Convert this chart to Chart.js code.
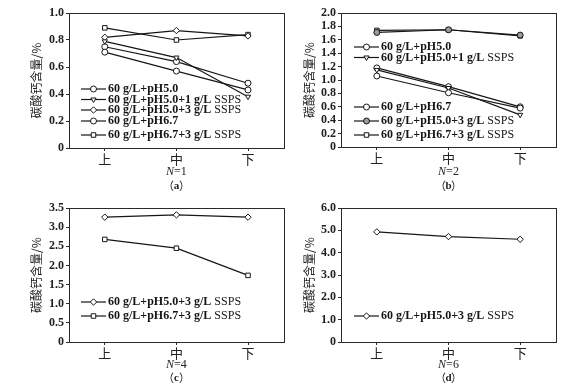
<!DOCTYPE html>
<html>
<head>
<meta charset="utf-8">
<script src="https://cdn.jsdelivr.net/npm/chart.js@4.4.1/dist/chart.umd.min.js"></script>
<style>
html,body{margin:0;padding:0;background:#fff;}
#wrap{position:relative;width:577px;height:391px;background:#fff;overflow:hidden;}
canvas{position:absolute;}
</style>
</head>
<body>
<div id="wrap">
<canvas id="ca" style="left:0;top:0;width:288px;height:195px"></canvas>
<canvas id="cb" style="left:288px;top:0;width:289px;height:195px"></canvas>
<canvas id="cc" style="left:0;top:195px;width:288px;height:196px"></canvas>
<canvas id="cd" style="left:288px;top:195px;width:289px;height:196px"></canvas>
</div>
<script>
// ---- data ----
const categories = ['上', '中', '下'];
// panel (a) N=1
const a_pH50 = [0.71, 0.57, 0.43];
const a_pH50_1SSPS = [0.79, 0.67, 0.38];
const a_pH50_3SSPS = [0.82, 0.87, 0.83];
const a_pH67 = [0.75, 0.64, 0.48];
const a_pH67_3SSPS = [0.89, 0.80, 0.84];
// panel (b) N=2
const b_pH50 = [1.06, 0.81, 0.58];
const b_pH50_1SSPS = [1.15, 0.88, 0.48];
const b_pH67 = [1.18, 0.90, 0.60];
const b_pH50_3SSPS = [1.71, 1.75, 1.67];
const b_pH67_3SSPS = [1.74, 1.75, 1.66];
// panel (c) N=4
const c_pH50_3SSPS = [3.26, 3.32, 3.26];
const c_pH67_3SSPS = [2.68, 2.45, 1.74];
// panel (d) N=6
const d_pH50_3SSPS = [4.93, 4.72, 4.60];

// labels
const L_pH50 = '60 g/L+pH5.0';
const L_pH50_1 = '60 g/L+pH5.0+1 g/L SSPS';
const L_pH50_3 = '60 g/L+pH5.0+3 g/L SSPS';
const L_pH67 = '60 g/L+pH6.7';
const L_pH67_3 = '60 g/L+pH6.7+3 g/L SSPS';
const yTitle = '碳酸钙含量/%';

// ---- helpers ----
const SERIF = '"Liberation Serif","DejaVu Serif",serif';
const CJK = '"Noto Sans CJK SC","Noto Sans CJK JP",sans-serif';
const INK = '#161616';

function ds(label, data, style, extra) {
  return Object.assign({
    label: label, data: data,
    borderColor: INK, borderWidth: 1.2,
    pointStyle: style, pointRadius: 3, pointHoverRadius: 3,
    pointBackgroundColor: '#fff', pointBorderColor: INK, pointBorderWidth: 1,
    pointRotation: 0, tension: 0, fill: false
  }, extra || {});
}

function drawMarker(ctx, d, x, y) {
  ctx.save();
  ctx.fillStyle = d.pointBackgroundColor;
  ctx.strokeStyle = d.pointBorderColor;
  ctx.lineWidth = d.pointBorderWidth;
  if (Chart.helpers && Chart.helpers.drawPoint) {
    Chart.helpers.drawPoint(ctx, {pointStyle: d.pointStyle, rotation: d.pointRotation || 0, radius: d.pointRadius, borderWidth: d.pointBorderWidth}, x, y);
  } else {
    ctx.beginPath(); ctx.arc(x, y, d.pointRadius, 0, Math.PI * 2); ctx.fill(); ctx.stroke();
  }
  ctx.restore();
}

const panelPlugin = {
  id: 'panelPlugin',
  afterDraw(chart) {
    const o = chart.options.plugins.panelPlugin;
    const ctx = chart.ctx;
    const ca = chart.chartArea;
    ctx.save();
    // frame
    ctx.strokeStyle = '#2a2a2a';
    ctx.lineWidth = 1;
    ctx.strokeRect(Math.round(ca.left) + 0.5, Math.round(ca.top) + 0.5, Math.round(ca.right - ca.left), Math.round(ca.bottom - ca.top));
    // y title
    ctx.save();
    ctx.translate(o.yTitleX, (ca.top + ca.bottom) / 2);
    ctx.rotate(-Math.PI / 2);
    ctx.fillStyle = '#222';
    ctx.font = '12px ' + CJK;
    ctx.textAlign = 'center';
    ctx.textBaseline = 'middle';
    ctx.fillText(yTitle, 0, 0);
    ctx.restore();
    // N label
    const cx = (ca.left + ca.right) / 2;
    ctx.fillStyle = '#222';
    ctx.textBaseline = 'middle';
    ctx.font = 'italic 12px ' + SERIF;
    const nW = ctx.measureText('N').width;
    ctx.font = '12px ' + SERIF;
    const rW = ctx.measureText(o.nText).width;
    let sx = cx - (nW + rW) / 2;
    ctx.textAlign = 'left';
    ctx.font = 'italic 12px ' + SERIF;
    ctx.fillText('N', sx, o.nY);
    ctx.font = '12px ' + SERIF;
    ctx.fillText(o.nText, sx + nW, o.nY);
    // caption
    ctx.textAlign = 'center';
    ctx.font = '11px ' + CJK;
    ctx.fillText('（', cx - 8, o.capY);
    ctx.fillText('）', cx + 8, o.capY);
    ctx.font = 'bold 11px ' + SERIF;
    ctx.fillText(o.capLetter, cx, o.capY);
    // legend
    o.legend.forEach(function (it) {
      const d = chart.data.datasets[it.i];
      ctx.strokeStyle = INK;
      ctx.lineWidth = 1.2;
      ctx.beginPath();
      ctx.moveTo(it.x, it.y);
      ctx.lineTo(it.x + 25, it.y);
      ctx.stroke();
      drawMarker(ctx, d, it.x + 12.5, it.y);
      const parts = d.label.split(' SSPS');
      let tx = it.x + 27;
      ctx.fillStyle = '#161616';
      ctx.textAlign = 'left';
      ctx.textBaseline = 'middle';
      ctx.font = 'bold 12px ' + SERIF;
      ctx.fillText(parts[0], tx, it.y);
      if (parts.length > 1) {
        tx += ctx.measureText(parts[0] + ' ').width;
        ctx.font = '12px ' + SERIF;
        ctx.fillText('SSPS', tx, it.y);
      }
    });
    ctx.restore();
  }
};

function makeChart(id, cw, ch, area, datasets, yMax, yStep, extra) {
  const el = document.getElementById(id);
  el.width = cw; el.height = ch;
  return new Chart(el, {
    type: 'line',
    data: {labels: categories, datasets: datasets},
    options: {
      responsive: false, animation: false, devicePixelRatio: 1,
      layout: {padding: {top: area.top, right: cw - area.right, left: 0, bottom: 0}},
      plugins: {legend: {display: false}, tooltip: {enabled: false}, title: {display: false},
        panelPlugin: extra},
      scales: {
        x: {
          offset: true,
          grid: {display: true, drawOnChartArea: false, tickLength: 3, color: '#2a2a2a', offset: false},
          border: {display: true, color: '#2a2a2a', width: 1},
          ticks: {color: '#222', font: {family: CJK, size: 13}, padding: 0, maxRotation: 0, autoSkip: false},
          afterFit: function (s) { s.height = ch - area.bottom; }
        },
        y: {
          min: 0, max: yMax,
          grid: {display: true, drawOnChartArea: false, tickLength: 3, color: '#2a2a2a'},
          border: {display: true, color: '#2a2a2a', width: 1},
          ticks: {stepSize: yStep, color: '#222', padding: 2, autoSkip: false,
            font: {family: SERIF, size: 12, weight: 'bold'},
            callback: function (v) { return v === 0 ? '0' : v.toFixed(1); }},
          afterFit: function (s) { s.width = area.left; }
        }
      }
    },
    plugins: [panelPlugin]
  });
}

// (a)
makeChart('ca', 288, 195, {left: 69, top: 13, right: 286, bottom: 148}, [
  ds(L_pH50, a_pH50, 'circle'),
  ds(L_pH50_1, a_pH50_1SSPS, 'triangle', {pointRotation: 180}),
  ds(L_pH50_3, a_pH50_3SSPS, 'rectRot', {pointRadius: 3.2}),
  ds(L_pH67, a_pH67, 'circle'),
  ds(L_pH67_3, a_pH67_3SSPS, 'rect', {pointRadius: 3.2})
], 1.0, 0.2, {yTitleX: 36, nText: '=1', nY: 172, capY: 186, capLetter: 'a',
  legend: [{i: 0, x: 81, y: 89}, {i: 1, x: 81, y: 99.5}, {i: 2, x: 81, y: 110}, {i: 3, x: 81, y: 121}, {i: 4, x: 81, y: 135}]});

// (b)
makeChart('cb', 289, 195, {left: 53, top: 13, right: 268, bottom: 147}, [
  ds(L_pH50, b_pH50, 'circle'),
  ds(L_pH50_1, b_pH50_1SSPS, 'triangle', {pointRotation: 180}),
  ds(L_pH67, b_pH67, 'circle'),
  ds(L_pH50_3, b_pH50_3SSPS, 'circle', {pointBackgroundColor: '#9a9a9a'}),
  ds(L_pH67_3, b_pH67_3SSPS, 'rect', {pointRadius: 3.2})
], 2.0, 0.2, {yTitleX: 21, nText: '=2', nY: 172, capY: 186, capLetter: 'b',
  legend: [{i: 0, x: 66, y: 47}, {i: 1, x: 66, y: 57.5}, {i: 2, x: 66, y: 107}, {i: 3, x: 66, y: 121}, {i: 4, x: 66, y: 135}]});

// (c)
makeChart('cc', 288, 196, {left: 69, top: 13, right: 286, bottom: 147}, [
  ds(L_pH50_3, c_pH50_3SSPS, 'rectRot', {pointRadius: 3.2}),
  ds(L_pH67_3, c_pH67_3SSPS, 'rect', {pointRadius: 3.2})
], 3.5, 0.5, {yTitleX: 36, nText: '=4', nY: 170, capY: 183, capLetter: 'c',
  legend: [{i: 0, x: 81, y: 107}, {i: 1, x: 81, y: 121}]});

// (d)
makeChart('cd', 289, 196, {left: 53, top: 13, right: 268, bottom: 147}, [
  ds(L_pH50_3, d_pH50_3SSPS, 'rectRot', {pointRadius: 3.2})
], 6.0, 1.0, {yTitleX: 21, nText: '=6', nY: 170, capY: 183, capLetter: 'd',
  legend: [{i: 0, x: 66, y: 121}]});
</script>
</body>
</html>
